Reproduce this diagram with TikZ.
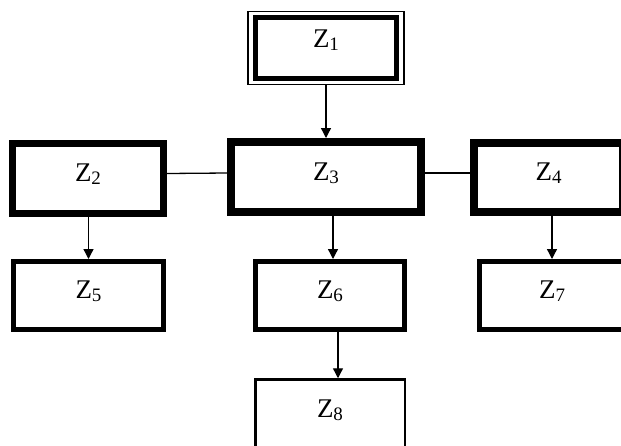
\documentclass[tikz,border=0pt]{standalone}
\usepackage{fontspec}
\setmainfont{Liberation Serif}
\usetikzlibrary{arrows.meta,fit}
\newcommand{\zlabel}[1]{Z\raisebox{-3pt}{\fontsize{19}{20}\selectfont #1}}
\tikzstyle{box} = [rectangle, draw=black, inner sep=0pt, text height=18pt, text depth=12pt, font=\fontsize{27}{30}\selectfont]
\tikzstyle{heavy} = [box, line width=8pt]
\tikzstyle{medium} = [box, line width=5pt]
\tikzstyle{light} = [box, line width=2.5pt]
\tikzstyle{frame} = [rectangle, draw=black, line width=1.5pt, inner xsep=5pt, inner ysep=3.5pt]
\tikzstyle{link} = [line width=1.3pt]
\tikzstyle{arrow} = [line width=1.3pt,-{Triangle[length=10pt,width=10pt]}]

\begin{document}
\begin{tikzpicture}[x=1pt, y=-1pt]
  \clip (0,0) rectangle (621,445);

  % top box with double border
  \node (z1) [medium, minimum width=141pt, minimum height=61pt, text depth=20pt] at (326,48) {\zlabel{1}};
  \node (z1frame) [frame, fit=(z1)] {};

  % second row
  \node (z2) [heavy, line width=7pt, minimum width=151pt, minimum height=70pt] at (88,178.5) {\zlabel{2}};
  \node (z3) [heavy, minimum width=190pt, minimum height=70pt] at (326,177) {\zlabel{3}};
  \node (z4) [heavy, minimum width=149pt, minimum height=69pt] at (548.5,177.5) {\zlabel{4}};

  % third row
  \node (z5) [medium, minimum width=150pt, minimum height=68pt] at (88.5,295.5) {\zlabel{5}};
  \node (z6) [medium, minimum width=149pt, minimum height=68pt] at (330,295.5) {\zlabel{6}};
  \node (z7) [medium, minimum width=145pt, minimum height=68pt] at (552,295.5) {\zlabel{7}};

  % bottom box
  \node (z8) [light, minimum width=149.5pt, minimum height=70pt] at (330,414.5) {\zlabel{8}};

  \draw [arrow] (z1frame.south) -- (z1frame.south |- z3.north);
  \draw [link] ([yshift=5pt]z2.east) -- ([yshift=4pt]z3.west);
  \draw [link] ([yshift=4pt]z3.east) -- ([yshift=4.5pt]z4.west);
  \draw [arrow] (z5.north |- z2.south) -- (z5.north);
  \draw [arrow] ([xshift=3pt]z6.north |- z3.south) -- ([xshift=3pt]z6.north);
  \draw [arrow] (z7.north |- z4.south) -- (z7.north);
  \draw [arrow] ([xshift=8pt]z6.south) -- ([xshift=8pt]z8.north);
\end{tikzpicture}
\end{document}
